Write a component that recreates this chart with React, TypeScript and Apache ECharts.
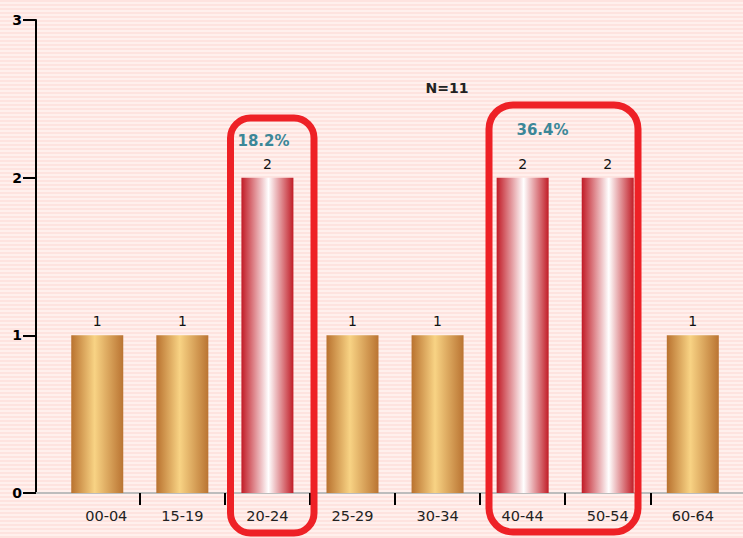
import React, { useEffect, useRef } from "react";
import * as echarts from "echarts";

const categories = ["00-04", "15-19", "20-24", "25-29", "30-34", "40-44", "50-54", "60-64"];
const counts = [1, 1, 2, 1, 1, 2, 2, 1];
const highlightGroups = [[2], [5, 6]];
const yTicks = [0, 1, 2, 3];

const FONT = "DejaVu Sans, Verdana, sans-serif";

export default function App() {
  const ref = useRef<HTMLDivElement>(null);
  useEffect(() => {
    if (!ref.current) return;
    const chart = echarts.init(ref.current, null, { renderer: "svg" });
    const total = counts.reduce((a, b) => a + b, 0);
    const highlighted = new Set(highlightGroups.flat());
    const pct = highlightGroups.map(
      (g) => ((g.reduce((s, i) => s + counts[i], 0) / total) * 100).toFixed(1) + "%"
    );

    const gold = new echarts.graphic.LinearGradient(0, 0, 1, 0, [
      { offset: 0, color: "#b9722f" },
      { offset: 0.45, color: "#f8d384" },
      { offset: 1, color: "#ba7432" },
    ]);
    const red = new echarts.graphic.LinearGradient(0, 0, 1, 0, [
      { offset: 0, color: "#c11b26" },
      { offset: 0.52, color: "#ffffff" },
      { offset: 1, color: "#c11d27" },
    ]);

    chart.setOption({
      animation: false,
      backgroundColor: "transparent",
      grid: { left: 36, right: 0, top: 20, bottom: 45 },
      xAxis: {
        type: "value",
        min: -0.72,
        max: 7.59,
        splitLine: { show: false },
        axisLine: { show: true, onZero: false, lineStyle: { color: "#bdbdbd", width: 2 } },
        axisTick: {
          show: true,
          customValues: categories.slice(0, -1).map((_, i) => i + 0.5),
          length: 12,
          lineStyle: { color: "#000", width: 2 },
        },
        axisLabel: {
          customValues: categories.map((_, i) => i),
          formatter: (v: number) => {
            const i = Math.round(v);
            const name = categories[i] ?? "";
            return i === 0 ? "{first|" + name + "}" : name;
          },
          rich: {
            first: { padding: [0, 0, 0, 18], fontSize: 14.5, fontFamily: FONT, color: "#222" },
          },
          color: "#222",
          fontSize: 14.5,
          fontFamily: FONT,
          margin: 15,
        },
      },
      yAxis: {
        type: "value",
        min: 0,
        max: 3,
        interval: 1,
        splitLine: { show: false },
        axisLine: { show: true, onZero: false, lineStyle: { color: "#000", width: 2 } },
        axisTick: { show: true, length: 13, lineStyle: { color: "#000", width: 2 } },
        axisLabel: {
          formatter: (v: number) => (yTicks.includes(v) ? String(v) : ""),
          color: "#000",
          fontSize: 14,
          fontWeight: "bold",
          fontFamily: FONT,
          margin: 14,
        },
      },
      series: [
        {
          type: "bar",
          barWidth: 52,
          data: counts.map((v, i) => ({
            value: [i, v],
            itemStyle: { color: highlighted.has(i) ? red : gold },
          })),
          label: {
            show: true,
            position: "top",
            distance: 7,
            formatter: (p: any) => String(p.value[1]),
            color: "#111",
            fontSize: 14,
            fontFamily: FONT,
          },
        },
      ],
      graphic: [
        {
          type: "rect",
          shape: { x: 230.5, y: 118, width: 83.5, height: 415, r: 20 },
          style: { fill: "none", stroke: "#ee2126", lineWidth: 7 },
          z: 10,
        },
        {
          type: "rect",
          shape: { x: 489, y: 105, width: 149, height: 427, r: 24 },
          style: { fill: "none", stroke: "#ee2126", lineWidth: 7 },
          z: 10,
        },
        {
          type: "text",
          x: 447,
          y: 88,
          style: {
            text: "N=" + total,
            fill: "#222",
            font: "bold 14px " + FONT,
            align: "center",
            verticalAlign: "middle",
          },
          z: 10,
        },
        {
          type: "text",
          x: 263.5,
          y: 140.5,
          style: {
            text: pct[0],
            fill: "#3c8798",
            font: "bold 15px " + FONT,
            align: "center",
            verticalAlign: "middle",
          },
          z: 10,
        },
        {
          type: "text",
          x: 542.5,
          y: 130,
          style: {
            text: pct[1],
            fill: "#3c8798",
            font: "bold 15px " + FONT,
            align: "center",
            verticalAlign: "middle",
          },
          z: 10,
        },
      ],
    });
    return () => chart.dispose();
  }, []);

  return (
    <div
      style={{
        position: "fixed",
        left: 0,
        top: 0,
        width: 743,
        height: 538,
        background:
          "repeating-linear-gradient(to bottom, #fee3df 0px, #fee3df 2px, #fff0ed 2px, #fff0ed 4px)",
      }}
    >
      <div ref={ref} style={{ width: 743, height: 538 }} />
    </div>
  );
}
